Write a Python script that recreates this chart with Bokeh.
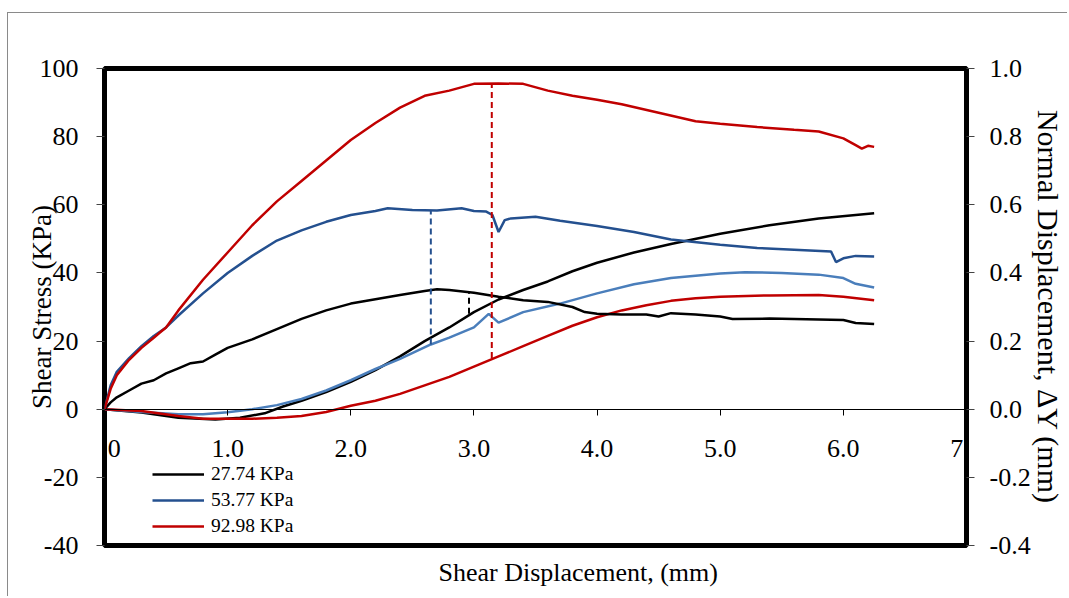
from bokeh.plotting import figure
from bokeh.models import (Range1d, LinearAxis, NumeralTickFormatter, Legend,
                          LegendItem, Title, FixedTicker)
from bokeh.embed import file_html
from bokeh.resources import INLINE

# ---------------- data ----------------
series_labels = ["27.74 KPa", "53.77 KPa", "92.98 KPa"]

# Shear stress (KPa) vs shear displacement (mm)
x_s1 = [0, 0.05, 0.1, 0.2, 0.3, 0.4, 0.5, 0.6, 0.7, 0.8, 0.9, 1.0, 1.2, 1.4, 1.6,
        1.8, 2.0, 2.2, 2.4, 2.6, 2.7, 2.8, 3.0, 3.2, 3.4, 3.6, 3.8, 3.9, 4.0, 4.2,
        4.4, 4.5, 4.6, 4.8, 5.0, 5.1, 5.4, 5.7, 6.0, 6.1, 6.25]
y_s1 = [0, 2, 3.5, 5.5, 7.5, 8.5, 10.5, 12, 13.5, 14, 16, 18, 20.5, 23.5, 26.5,
        29, 31, 32.3, 33.5, 34.7, 35.2, 35, 34.2, 33, 32, 31.5, 30, 28.5, 28, 27.8,
        27.8, 27.2, 28.2, 27.8, 27.2, 26.5, 26.6, 26.4, 26.2, 25.3, 25]

x_s2 = [0, 0.05, 0.1, 0.2, 0.3, 0.4, 0.5, 0.6, 0.8, 1.0, 1.2, 1.4, 1.6, 1.8, 2.0,
        2.1, 2.2, 2.3, 2.5, 2.7, 2.9, 3.0, 3.1, 3.15, 3.2, 3.25, 3.3, 3.5, 3.7, 4.0,
        4.3, 4.6, 5.0, 5.3, 5.6, 5.9, 5.94, 6.0, 6.1, 6.25]
y_s2 = [0, 7, 11, 15, 18.5, 21.5, 24, 27.5, 34, 40, 45, 49.5, 52.5, 55, 57,
        57.6, 58.2, 59, 58.5, 58.3, 59, 58.2, 58, 57, 52, 55.5, 56, 56.5, 55.3, 53.8,
        52, 49.8, 48.3, 47.3, 46.8, 46.3, 43.2, 44.3, 45, 44.8]

x_s3 = [0, 0.05, 0.1, 0.2, 0.3, 0.4, 0.45, 0.5, 0.6, 0.8, 1.0, 1.2, 1.4, 1.6, 1.8,
        2.0, 2.2, 2.4, 2.6, 2.8, 3.0, 3.2, 3.4, 3.6, 3.8, 4.0, 4.2, 4.5, 4.8, 5.0,
        5.3, 5.6, 5.8, 6.0, 6.1, 6.15, 6.2, 6.25]
y_s3 = [0, 6, 10, 14.5, 18, 21, 22.5, 24, 29, 38, 46, 54, 61, 67, 73,
        79, 84, 88.5, 92, 93.5, 95.5, 95.6, 95.5, 93.5, 92, 90.8, 89.5, 87, 84.5, 83.8,
        82.8, 82, 81.5, 79.5, 77.5, 76.5, 77.3, 77]

# Normal displacement dY (mm) vs shear displacement (mm)
x_n1 = [0, 0.3, 0.6, 0.9, 1.1, 1.3, 1.45, 1.6, 1.8, 2.0, 2.2, 2.4, 2.6, 2.8, 3.0,
        3.2, 3.4, 3.6, 3.8, 4.0, 4.3, 4.6, 5.0, 5.4, 5.8, 6.25]
y_n1 = [0, -0.01, -0.025, -0.03, -0.025, -0.012, 0.008, 0.025, 0.05, 0.08, 0.115,
        0.155, 0.2, 0.24, 0.285, 0.322, 0.35, 0.375, 0.405, 0.43, 0.46, 0.485,
        0.515, 0.54, 0.56, 0.575]

x_n2 = [0, 0.3, 0.6, 0.8, 1.0, 1.2, 1.4, 1.6, 1.8, 2.0, 2.2, 2.4, 2.65, 2.8, 3.0,
        3.12, 3.2, 3.4, 3.7, 4.0, 4.3, 4.6, 5.0, 5.2, 5.5, 5.8, 6.0, 6.1, 6.25]
y_n2 = [0, -0.008, -0.015, -0.015, -0.009, 0.0, 0.012, 0.03, 0.055, 0.085, 0.118,
        0.148, 0.19, 0.21, 0.24, 0.28, 0.254, 0.285, 0.31, 0.34, 0.367, 0.385,
        0.398, 0.402, 0.4, 0.395, 0.385, 0.368, 0.357]

x_n3 = [0, 0.3, 0.6, 0.8, 1.0, 1.2, 1.4, 1.6, 1.8, 2.0, 2.2, 2.4, 2.6, 2.8, 3.0,
        3.2, 3.4, 3.6, 3.8, 4.0, 4.2, 4.4, 4.6, 4.8, 5.0, 5.4, 5.8, 6.0, 6.25]
y_n3 = [0, -0.005, -0.02, -0.028, -0.028, -0.028, -0.025, -0.02, -0.008, 0.01, 0.025,
        0.045, 0.07, 0.095, 0.125, 0.155, 0.185, 0.215, 0.245, 0.27, 0.29, 0.305,
        0.318, 0.326, 0.33, 0.334, 0.335, 0.33, 0.32]

# Peak markers (dashed verticals): x, shear at peak, dY at peak
peak_x = [2.96, 2.65, 3.145]
peak_shear = [34.3, 58.4, 95.6]
peak_dy = [0.28, 0.19, 0.15]

x_ticks = [0, 1, 2, 3, 4, 5, 6, 7]
y_ticks = [-40, -20, 0, 20, 40, 60, 80, 100]
dy_ticks = [-0.4, -0.2, 0.0, 0.2, 0.4, 0.6, 0.8, 1.0]

x_title = "Shear Displacement, (mm)"
y_title = "Shear Stress (KPa)"
y2_title = "Normal Displacement, \u0394Y (mm)"

# ---------------- styles ----------------
FONT = "Liberation Serif"
c_black = "#000000"
c_blue_s = "#24508F"
c_blue_n = "#4A7EBB"
c_red = "#C00000"

y_lo, y_hi = -40, 100
dy_lo, dy_hi = -0.4, 1.0
dy_scale = (y_hi - y_lo) / (dy_hi - dy_lo)

p = figure(width=1067, height=596, x_range=Range1d(0, 7), y_range=Range1d(y_lo, y_hi),
           output_backend="svg", toolbar_location=None,
           min_border_left=104, min_border_right=97, min_border_top=68,
           min_border_bottom=51)
p.extra_y_ranges = {"dy": Range1d(dy_lo, dy_hi)}
p.grid.visible = False
p.background_fill_color = "white"
p.border_fill_color = None
p.outline_line_color = "black"
p.outline_line_width = 5
p.styles = {"box-shadow": "inset 7px 12px 0 0 white, inset 8px 13px 0 0 #8a8a8a",
            "background-color": "white"}

# x axis crossing at y = 0
xa = p.xaxis[0]
xa.fixed_location = 0
xa.ticker = FixedTicker(ticks=x_ticks)
xa.formatter = NumeralTickFormatter(format="0.0")
xa.major_tick_out = 6
xa.major_tick_in = 0
xa.minor_tick_line_color = None
xa.axis_line_color = "black"
xa.axis_line_width = 1
xa.major_tick_line_color = "black"
xa.major_label_standoff = 25
xa.major_label_text_font = FONT
xa.major_label_text_font_size = "26px"
xa.major_label_text_color = "black"

ya = p.yaxis[0]
ya.ticker = FixedTicker(ticks=y_ticks)
ya.formatter = NumeralTickFormatter(format="0")
ya.axis_line_color = None
ya.major_tick_out = 8
ya.major_tick_in = 0
ya.minor_tick_line_color = None
ya.major_tick_line_color = "#444444"
ya.major_label_standoff = 18
ya.major_label_text_font = FONT
ya.major_label_text_font_size = "26px"
ya.major_label_text_color = "black"
ya.axis_label = y_title
ya.axis_label_text_font = FONT
ya.axis_label_text_font_size = "27px"
ya.axis_label_text_font_style = "normal"
ya.axis_label_text_color = "black"
ya.axis_label_standoff = -20

ra = LinearAxis(y_range_name="dy", ticker=FixedTicker(ticks=dy_ticks),
                formatter=NumeralTickFormatter(format="0.0"))
ra.axis_line_color = None
ra.major_tick_out = 8
ra.major_tick_in = 0
ra.minor_tick_line_color = None
ra.major_tick_line_color = "#444444"
ra.major_label_standoff = 15
ra.major_label_text_font = FONT
ra.major_label_text_font_size = "26px"
ra.major_label_text_color = "black"
ra.axis_label = y2_title
ra.axis_label_text_font = FONT
ra.axis_label_text_font_size = "30px"
ra.axis_label_text_font_style = "normal"
ra.axis_label_text_color = "black"
ra.axis_label_standoff = -2
p.add_layout(ra, "right")

# x-axis title below the frame
p.add_layout(Title(text=x_title, align="left", offset=334, standoff=20,
                   text_font=FONT, text_font_size="26px", text_font_style="normal",
                   text_color="black"), "below")

# normal displacement curves (secondary axis)
p.line(x_n1, y_n1, y_range_name="dy", line_color=c_black, line_width=2.5)
p.line(x_n2, y_n2, y_range_name="dy", line_color=c_blue_n, line_width=2.5)
p.line(x_n3, y_n3, y_range_name="dy", line_color=c_red, line_width=2.5)

# shear stress curves
r1 = p.line(x_s1, y_s1, line_color=c_black, line_width=2.5)
r2 = p.line(x_s2, y_s2, line_color=c_blue_s, line_width=2.5)
r3 = p.line(x_s3, y_s3, line_color=c_red, line_width=2.5)

# dashed peak markers
p.segment(x0=peak_x, y0=[d * dy_scale for d in peak_dy], x1=peak_x, y1=peak_shear,
          line_color=[c_black, c_blue_s, c_red], line_width=2, line_dash="6 4")

legend = Legend(items=[LegendItem(label=series_labels[0], renderers=[r1]),
                       LegendItem(label=series_labels[1], renderers=[r2]),
                       LegendItem(label=series_labels[2], renderers=[r3])],
                location=(48, 7), orientation="vertical")
legend.padding = 0
legend.margin = 0
legend.spacing = 2
legend.glyph_width = 52
legend.glyph_height = 24
legend.label_height = 24
legend.label_standoff = 7
legend.label_text_font = FONT
legend.label_text_font_size = "19.5px"
legend.label_text_color = "black"
legend.border_line_color = None
legend.background_fill_alpha = 0
p.add_layout(legend, "center")

open("out.html", "w").write(file_html(p, INLINE))
